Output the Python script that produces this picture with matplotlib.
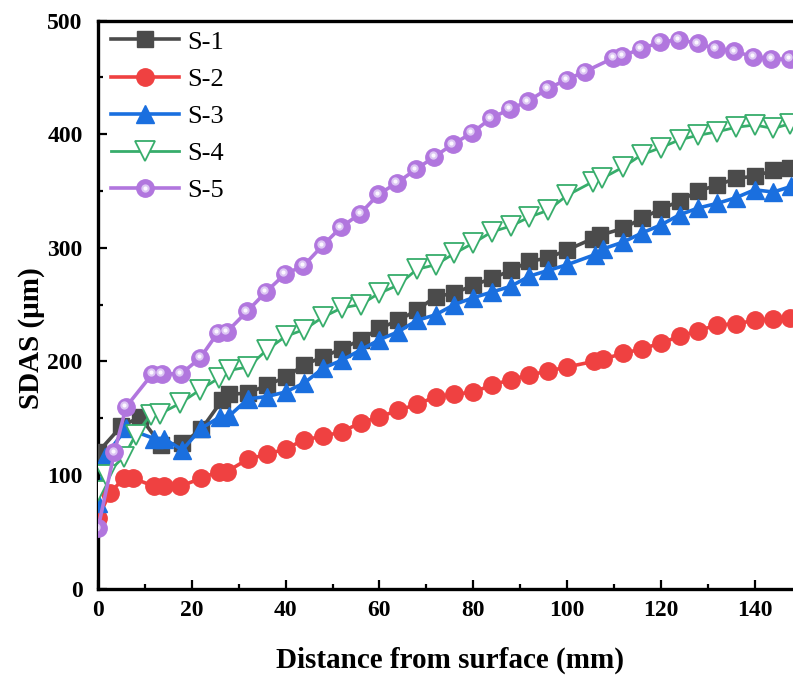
import matplotlib
matplotlib.use("Agg")
import matplotlib.pyplot as plt
from matplotlib.ticker import MultipleLocator
from matplotlib.transforms import offset_copy
from matplotlib.legend_handler import HandlerTuple

# ---- data ----
labels = ["S-1", "S-2", "S-3", "S-4", "S-5"]

x1 = [0, 5, 9, 13.5, 18, 22, 26.5, 28, 32, 36, 40, 44, 48, 52, 56, 60, 64, 68, 72, 76,
      80, 84, 88, 92, 96, 100, 105.5, 107, 112, 116, 120, 124, 128, 132, 136, 140, 144, 147.5]
y1 = [120, 143, 151, 126, 128, 140, 166, 171, 172, 179, 186, 197, 204, 211, 219, 229, 236, 245, 257, 260,
      267, 273, 280, 288, 291, 298, 308, 311, 317, 326, 334, 341, 350, 355, 361, 363, 368, 370]

x2 = [0, 2.5, 5.5, 7.5, 12, 14, 17.5, 22, 25.7, 27.5, 32, 36, 40, 44, 48, 52, 56, 60, 64, 68,
      72, 76, 80, 84, 88, 92, 96, 100, 105.8, 107.7, 112, 116, 120, 124, 128, 132, 136, 140, 144, 147.5]
y2 = [62, 84, 97, 97, 90, 90, 90, 97, 103, 103, 114, 118, 123, 131, 134, 138, 146, 151, 157, 162,
      169, 171, 173, 179, 184, 188, 191.5, 195, 200, 202, 207, 211, 216, 222, 227, 232, 233, 236, 237.5, 238]

x3 = [0, 1.5, 6, 12, 14, 18, 22, 26, 28, 32, 36, 40, 44, 48, 52, 56, 60, 64, 68, 72,
      76, 80, 84, 88, 92, 96, 100, 106, 107.7, 112, 116, 120, 124, 128, 132, 136, 140, 144, 147.8]
y3 = [75, 116, 141, 132, 132, 122, 141, 151, 152, 167, 169, 173, 181, 194, 201, 210, 219, 226, 236, 241,
      250, 256, 261, 266, 275, 280, 285, 294, 299, 305, 313, 320, 329, 335, 339, 344, 351, 349, 354]

x4 = [0, 1.6, 5.5, 8, 11.2, 13.3, 17.5, 21.8, 25.7, 27.9, 32, 36, 40, 44, 48, 52, 56, 60, 64, 68,
      72, 76, 80, 84, 88, 92, 96, 100, 105.5, 107.5, 112, 116, 120, 124, 128, 132, 136, 140, 144, 147.5]
y4 = [86, 100, 116, 135, 153, 154, 163, 175, 185, 192, 195, 210, 222, 228, 239, 247, 250, 260, 267, 281,
      285, 295, 304, 314, 319, 327, 333, 346, 358, 361, 371, 382, 388, 395, 399, 402, 406, 408, 405, 409]

x5 = [0, 3.5, 6, 11.6, 13.6, 17.7, 21.8, 25.5, 27.5, 31.8, 35.8, 39.9, 43.8, 47.9, 51.8, 55.9, 59.8, 63.7,
      67.8, 71.7, 75.6, 79.7, 83.8, 87.8, 91.7, 95.9, 99.9, 103.8, 109.9, 111.8, 115.8, 119.8, 123.9,
      127.9, 131.7, 135.7, 139.7, 143.6, 147.5]
y5 = [53, 120, 160, 189, 189, 189, 203, 225, 226, 244, 261, 277, 284, 302, 318, 330, 347, 357,
      369, 380, 391, 401, 414, 422, 429, 440, 448, 455, 467, 469, 475, 481, 483,
      480, 475, 473, 468, 466, 466]

xticks = [0, 20, 40, 60, 80, 100, 120, 140]
yticks = [0, 100, 200, 300, 400, 500]

# ---- style ----
plt.rcParams['font.family'] = ['Liberation Serif', 'DejaVu Serif']

fig = plt.figure(figsize=(7.93, 6.75), dpi=100)
ax = fig.add_axes([0.1236, 0.1281, 0.8871, 0.8415])

lw = 2.6
h1, = ax.plot(x1, y1, color='#4b4b4b', lw=lw, marker='s', ms=11, mec='#4b4b4b', mfc='#4b4b4b', zorder=3)
h2, = ax.plot(x2, y2, color='#ef4141', lw=lw, marker='o', ms=12.5, mec='#ef4141', mfc='#ef4141', zorder=3)
h3, = ax.plot(x3, y3, color='#1a6fdf', lw=lw, marker='^', ms=13, mec='#1a6fdf', mfc='#1a6fdf', zorder=3)
h4, = ax.plot(x4, y4, color='#37ad6b', lw=2.0, marker='v', ms=14, mec='#37ad6b', mfc='white', mew=1.3, zorder=3)
h5, = ax.plot(x5, y5, color='#b176de', lw=lw, marker='o', ms=12.5, mec='#b176de', mfc='#b176de', zorder=4)
tr = offset_copy(ax.transData, fig=fig, x=-1.2, y=1.2, units='points')
h5b, = ax.plot(x5, y5, ls='none', marker='o', ms=6, mec='none', mfc='#dcc6f3', transform=tr, zorder=5)
h5c, = ax.plot(x5, y5, ls='none', marker='o', ms=3, mec='none', mfc='#fbf7ff', transform=tr, zorder=6)

ax.set_xlim(0, 150)
ax.set_ylim(0, 500)
ax.set_xticks(xticks)
ax.set_yticks(yticks)
ax.xaxis.set_minor_locator(MultipleLocator(10))
ax.yaxis.set_minor_locator(MultipleLocator(50))
ax.tick_params(which='both', direction='in', width=1.6, colors='black')
ax.tick_params(which='major', length=6.5)
ax.tick_params(which='minor', length=3.5)
ax.tick_params(axis='x', pad=8)
ax.tick_params(axis='y', pad=11)
for lab in ax.get_xticklabels() + ax.get_yticklabels():
    lab.set_fontsize(17)
    lab.set_fontweight('bold')

for side in ['left', 'bottom', 'top']:
    ax.spines[side].set_linewidth(2.4)
ax.spines['right'].set_visible(False)

ax.set_xlabel('Distance from surface (mm)', fontsize=21, fontweight='bold', labelpad=19)
ax.set_ylabel('SDAS (μm)', fontsize=21, fontweight='bold')
ax.yaxis.set_label_coords(-0.076, 0.44)

leg = ax.legend([h1, h2, h3, h4, (h5, h5b, h5c)], labels,
                handler_map={tuple: HandlerTuple(ndivide=1, pad=0)},
                loc='upper left', bbox_to_anchor=(0.018, 0.983), frameon=False,
                fontsize=19, handlelength=2.6, handletextpad=0.3, labelspacing=0.52,
                borderpad=0, borderaxespad=0, numpoints=1)

fig.savefig('out.png', dpi=100)
